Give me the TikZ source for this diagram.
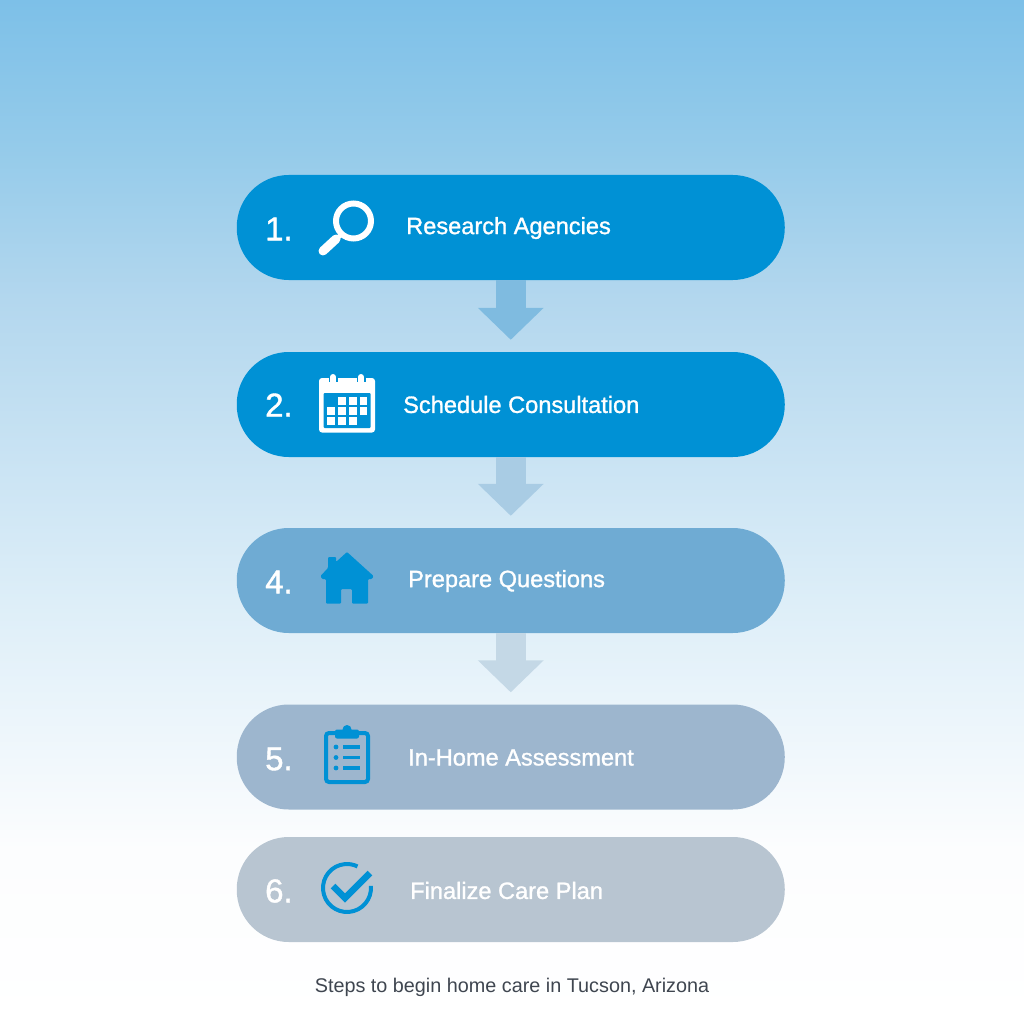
\documentclass[tikz,border=0pt]{standalone}
\usepackage{fontspec}
\setmainfont{Liberation Sans}
\newfontfamily\stepfont[FakeBold=1.2]{Liberation Sans}
\usetikzlibrary{arrows.meta,positioning}
\definecolor{skyA}{HTML}{7DC0E8}
\definecolor{skyB}{HTML}{95CBEA}
\definecolor{skyC}{HTML}{B3D7EE}
\definecolor{skyD}{HTML}{DDEEF8}
\definecolor{skyE}{HTML}{FCFDFE}
\definecolor{stepblue}{HTML}{0091D5}
\definecolor{stepmid}{HTML}{6FABD3}
\definecolor{stepgrey}{HTML}{9DB6CE}
\definecolor{steppale}{HTML}{B8C5D1}
\definecolor{arrowA}{HTML}{7FBBE0}
\definecolor{arrowB}{HTML}{A9CCE4}
\definecolor{arrowC}{HTML}{C4D8E6}
\definecolor{captiongrey}{HTML}{3F4650}
\pgfdeclareverticalshading{skyfade}{100bp}{color(0bp)=(white); color(25bp)=(white);
  color(33.5bp)=(skyE); color(45.7bp)=(skyD); color(60.35bp)=(skyC);
  color(67.7bp)=(skyB); color(75bp)=(skyA); color(100bp)=(skyA)}

\begin{document}
\begin{tikzpicture}[
    x=1pt, y=-1pt,
    stepbox/.style={rectangle, rounded corners=52pt, minimum width=548pt,
                    minimum height=105pt, inner sep=0pt},
    numlabel/.style={anchor=west, inner sep=0pt, text=white,
                     font=\fontsize{33}{36}\stepfont},
    steplabel/.style={anchor=west, inner sep=0pt, text=white,
                      font=\fontsize{23.6}{28}\stepfont},
    flowarrow/.style={line width=30pt, shorten >=12pt,
                      -{Triangle[length=32pt,width=64pt]}}
  ]

  % ---- Background ----
  \shade[shading=skyfade] (0,0) rectangle (1024,1024);

  % ---- Step pills ----
  \node[stepbox, fill=stepblue] (S1) at (510.75,227.5) {};
  \node[stepbox, fill=stepblue] (S2) at (510.75,404.5) {};
  \node[stepbox, fill=stepmid]  (S3) at (510.75,580.5) {};
  \node[stepbox, fill=stepgrey] (S4) at (510.75,757) {};
  \node[stepbox, fill=steppale] (S5) at (510.75,889.5) {};

  % ---- Arrows between pills ----
  \draw[flowarrow, arrowA] (S1.south) -- (S2.north);
  \draw[flowarrow, arrowB] (S2.south) -- (S3.north);
  \draw[flowarrow, arrowC] (S3.south) -- (S4.north);

  % ---- Numbers ----
  \node[numlabel] (N1) at (265,229) {1.};
  \node[numlabel] (N2) at (265,405) {2.};
  \node[numlabel] (N3) at (265,582) {4.};
  \node[numlabel] (N4) at (265,759) {5.};
  \node[numlabel] (N5) at (265,891) {6.};

  % ---- Step texts ----
  \node[steplabel] (T1) at (406,228) {Research Agencies};
  \node[steplabel] (T2) at (403,404.5) {Schedule Consultation};
  \node[steplabel] (T3) at (408,581) {Prepare Questions};
  \node[steplabel] (T4) at (408,757.5) {In-Home Assessment};
  \node[steplabel] (T5) at (410,890.5) {Finalize Care Plan};

  % ---- Magnifier icon ----
  \draw[white, line width=6pt] (353.5,221) circle (17.5);
  \draw[white, line width=4.5pt] (342,234) -- (335,240);
  \draw[white, line width=9pt, line cap=round] (336,239) -- (323,251);

  % ---- Calendar icon ----
  \fill[white, rounded corners=3pt] (319,378) rectangle (375,432.5);
  \fill[stepblue, rounded corners=1pt] (323.5,393) rectangle (370.5,428);
  \foreach \cx in {333,361}
    \draw[white, line width=6pt, line cap=round, preaction={draw=stepblue, line width=9pt}]
      (\cx,377) -- (\cx,382);
  \foreach \cx/\cy in {342/401,353/401,363.5/401,
                       331/411,342/411,353/411,363.5/411,
                       331/421,342/421,353/421}
    \fill[white] (\cx-3.9,\cy-3.7) rectangle (\cx+3.9,\cy+3.7);

  % ---- House icon ----
  \fill[stepblue, rounded corners=1pt]
    (328,568) -- (328,557) -- (336,557) -- (336,562) -- (347,552) -- (373.5,576)
    -- (372,579) -- (368,579) -- (368,603.5) -- (352,603.5) -- (352,589)
    -- (341,589) -- (341,603.5) -- (326,603.5) -- (326,579) -- (322,579)
    -- (320.5,576) -- cycle;

  % ---- Clipboard icon ----
  \draw[stepblue, line width=4pt, rounded corners=3pt] (335,733) -- (326,733) -- (326,782)
    -- (368,782) -- (368,733) -- (359,733);
  \fill[stepblue, rounded corners=2pt] (335,729.5) rectangle (359,738.5);
  \fill[stepblue] (347,729.5) circle (4.5);
  \foreach \ly in {747,757.5,768} {
    \fill[stepblue] (336,\ly) circle (2.4);
    \draw[stepblue, line width=3.4pt] (343,\ly) -- (360,\ly);
  }

  % ---- Check icon ----
  \draw[stepblue, line width=4pt] (370.9,885.9) arc[start angle=-5, end angle=296,
    radius=24];
  \draw[stepblue, line width=6.5pt] (333,886) -- (345,898) -- (370,873);

  % ---- Caption ----
  \node[inner sep=0pt, text=captiongrey, font=\fontsize{19.8}{24}\selectfont]
    (CAP) at (512,987) {Steps to begin home care in Tucson, Arizona};

\end{tikzpicture}
\end{document}
